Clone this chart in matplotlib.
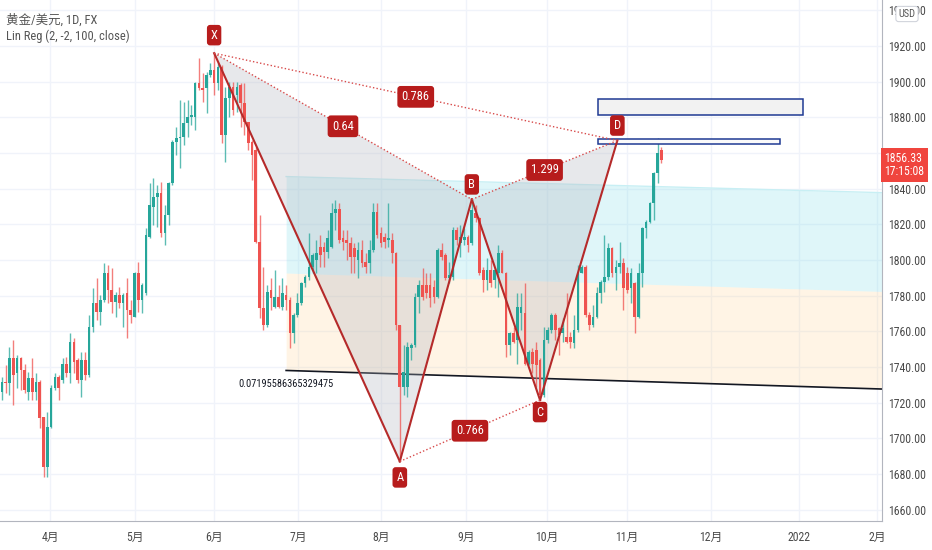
import matplotlib
matplotlib.use('Agg')
import matplotlib.pyplot as plt
from matplotlib import font_manager as fm
from matplotlib.patches import Polygon, Rectangle

# ---------------- data ----------------
opens = [1726.2, 1731.8, 1730.8, 1744.9, 1736.4, 1744.9, 1738.3, 1726.2, 1733.6, 1726.2,
         1731.8, 1712.1, 1684.2, 1706.5, 1728.0, 1734.6, 1732.7, 1742.0, 1736.4, 1754.2,
         1743.9, 1732.7, 1743.9, 1735.5, 1762.6, 1775.7, 1771.0, 1777.6, 1792.5, 1783.2,
         1776.6, 1780.4, 1775.7, 1781.3, 1772.0, 1768.2, 1792.5, 1777.6, 1781.3, 1813.1,
         1829.9, 1835.5, 1837.4, 1815.0, 1825.2, 1843.0, 1866.4, 1868.2, 1869.2, 1876.6,
         1880.4, 1880.4, 1899.1, 1896.3, 1896.3, 1903.7, 1906.5, 1899.1, 1908.4, 1870.1,
         1890.7, 1897.2, 1892.5, 1898.1, 1887.8, 1877.6, 1866.4, 1861.7, 1810.3, 1772.9,
         1763.5, 1783.2, 1773.8, 1779.4, 1773.8, 1780.4, 1777.6, 1758.9, 1769.2, 1775.7,
         1786.9, 1790.7, 1796.3, 1800.0, 1807.5, 1807.5, 1804.7, 1807.5, 1826.2, 1828.9,
         1812.2, 1811.2, 1809.3, 1806.5, 1800.0, 1805.6, 1799.1, 1798.1, 1805.6, 1827.1,
         1815.0, 1813.1, 1811.2, 1811.2, 1803.7, 1763.5, 1729.0, 1729.0, 1750.5, 1752.3,
         1779.4, 1786.0, 1786.0, 1786.0, 1785.0, 1779.4, 1805.6, 1802.8, 1789.7, 1790.7,
         1816.8, 1809.3, 1811.2, 1813.1, 1809.3, 1826.2, 1823.4, 1794.4, 1788.8, 1794.4,
         1788.8, 1792.5, 1803.7, 1792.5, 1752.3, 1758.9, 1755.1, 1770.1, 1770.1, 1742.0,
         1748.6, 1749.5, 1743.9, 1724.3, 1755.1, 1760.7, 1769.2, 1761.7, 1758.9, 1757.0,
         1757.0, 1753.3, 1760.7, 1792.5, 1796.3, 1769.2, 1763.5, 1768.2, 1781.3, 1787.9,
         1790.7, 1806.5, 1792.5, 1796.3, 1798.1, 1792.5, 1784.1, 1786.9, 1768.2, 1792.5,
         1817.8, 1821.5, 1831.8, 1848.6, 1861.7]
highs = [1734.6, 1741.1, 1751.4, 1755.1, 1746.7, 1745.8, 1742.0, 1737.4, 1744.9, 1736.4,
         1732.7, 1712.1, 1714.9, 1729.9, 1736.4, 1735.5, 1744.9, 1745.8, 1758.9, 1756.1,
         1744.9, 1748.6, 1748.6, 1769.2, 1784.1, 1789.7, 1780.4, 1798.1, 1797.2, 1795.3,
         1782.2, 1785.0, 1781.3, 1789.7, 1777.6, 1793.5, 1799.1, 1786.9, 1817.8, 1843.0,
         1845.8, 1842.1, 1843.9, 1830.8, 1843.9, 1867.3, 1874.8, 1889.7, 1888.8, 1889.7,
         1886.9, 1900.0, 1913.1, 1904.7, 1905.6, 1910.3, 1916.0, 1910.3, 1909.3, 1897.2,
         1900.0, 1900.0, 1900.0, 1899.1, 1899.1, 1877.6, 1867.3, 1863.6, 1825.2, 1796.3,
         1786.0, 1789.7, 1794.4, 1786.0, 1789.7, 1786.0, 1779.4, 1770.1, 1781.3, 1787.9,
         1791.6, 1815.0, 1803.7, 1811.2, 1814.0, 1810.3, 1816.8, 1831.8, 1833.6, 1831.8,
         1816.8, 1816.8, 1813.1, 1809.3, 1810.3, 1811.2, 1803.7, 1811.2, 1831.8, 1831.8,
         1818.7, 1815.0, 1831.8, 1815.0, 1804.7, 1763.5, 1752.3, 1754.2, 1753.3, 1781.3,
         1788.8, 1795.3, 1792.5, 1792.5, 1788.8, 1806.5, 1809.3, 1803.7, 1799.1, 1818.7,
         1818.7, 1819.6, 1817.8, 1814.0, 1834.0, 1830.8, 1824.3, 1796.3, 1800.9, 1800.0,
         1795.3, 1808.4, 1805.6, 1793.5, 1759.8, 1762.6, 1781.3, 1781.3, 1786.9, 1749.5,
         1750.5, 1754.2, 1744.9, 1762.6, 1762.6, 1770.1, 1770.1, 1762.6, 1767.3, 1781.3,
         1759.8, 1769.2, 1797.2, 1797.2, 1797.2, 1771.0, 1774.8, 1785.0, 1788.8, 1814.0,
         1809.3, 1807.5, 1800.0, 1810.3, 1800.9, 1796.3, 1795.3, 1787.9, 1798.1, 1818.7,
         1822.4, 1832.7, 1849.5, 1868.2, 1863.6]
lows = [1721.5, 1725.2, 1724.3, 1718.7, 1728.0, 1727.1, 1725.2, 1721.5, 1721.5, 1721.5,
        1705.6, 1678.5, 1678.5, 1705.6, 1727.1, 1721.5, 1730.8, 1734.6, 1730.8, 1736.4,
        1730.8, 1723.4, 1732.7, 1734.6, 1759.8, 1766.3, 1763.5, 1776.6, 1775.7, 1770.1,
        1768.2, 1772.9, 1762.6, 1756.1, 1764.5, 1768.2, 1771.0, 1770.1, 1780.4, 1812.2,
        1819.6, 1818.7, 1813.1, 1808.4, 1819.6, 1842.1, 1858.9, 1851.4, 1864.5, 1869.2,
        1875.7, 1872.9, 1895.3, 1888.8, 1882.2, 1902.8, 1892.5, 1895.3, 1865.4, 1855.1,
        1880.4, 1881.3, 1883.2, 1874.8, 1870.1, 1861.7, 1844.9, 1809.3, 1767.3, 1760.7,
        1762.6, 1772.0, 1772.9, 1772.9, 1772.0, 1772.0, 1750.5, 1753.3, 1768.2, 1774.8,
        1785.0, 1788.8, 1792.5, 1792.5, 1796.3, 1796.3, 1800.9, 1806.5, 1816.8, 1809.3,
        1805.6, 1800.0, 1792.5, 1792.5, 1789.7, 1796.3, 1792.5, 1792.5, 1804.7, 1812.2,
        1807.5, 1806.5, 1807.5, 1798.1, 1760.7, 1687.1, 1724.3, 1723.4, 1743.9, 1751.4,
        1770.1, 1777.6, 1778.5, 1773.8, 1775.7, 1778.5, 1800.0, 1788.8, 1786.9, 1788.8,
        1808.4, 1801.9, 1808.4, 1804.7, 1808.4, 1821.5, 1791.6, 1782.2, 1783.2, 1785.0,
        1784.1, 1779.4, 1792.5, 1745.8, 1746.7, 1753.3, 1742.0, 1760.7, 1741.1, 1741.1,
        1736.4, 1729.0, 1721.5, 1723.4, 1753.3, 1758.9, 1755.1, 1746.7, 1754.2, 1753.3,
        1750.5, 1750.5, 1759.8, 1792.5, 1768.2, 1760.7, 1762.6, 1767.3, 1775.7, 1782.2,
        1788.8, 1790.7, 1783.2, 1792.5, 1772.0, 1781.3, 1775.7, 1758.9, 1767.3, 1785.0,
        1812.2, 1820.6, 1822.4, 1843.0, 1854.2]
closes = [1731.8, 1730.8, 1744.9, 1735.5, 1744.9, 1738.3, 1727.1, 1733.6, 1726.2, 1731.8,
          1711.2, 1684.2, 1706.5, 1728.0, 1734.6, 1728.0, 1742.0, 1736.4, 1754.2, 1743.0,
          1732.7, 1743.9, 1735.5, 1762.6, 1775.7, 1771.0, 1777.6, 1792.5, 1783.2, 1776.6,
          1780.4, 1775.7, 1780.4, 1772.0, 1769.2, 1792.5, 1777.6, 1786.0, 1814.0, 1830.8,
          1835.5, 1837.4, 1815.0, 1825.2, 1843.0, 1866.4, 1868.2, 1869.2, 1876.6, 1880.4,
          1881.3, 1899.1, 1896.3, 1895.3, 1903.7, 1906.5, 1899.1, 1908.4, 1870.1, 1890.7,
          1897.2, 1884.1, 1897.2, 1887.8, 1877.6, 1865.4, 1858.9, 1810.3, 1772.9, 1763.5,
          1782.2, 1778.5, 1779.4, 1773.8, 1781.3, 1777.6, 1758.9, 1769.2, 1775.7, 1786.9,
          1790.7, 1796.3, 1802.8, 1803.7, 1802.8, 1804.7, 1812.2, 1826.2, 1828.9, 1811.2,
          1810.3, 1809.3, 1801.9, 1801.9, 1805.6, 1798.1, 1796.3, 1805.6, 1827.1, 1814.0,
          1809.3, 1810.3, 1812.2, 1803.7, 1763.5, 1729.0, 1737.4, 1751.4, 1752.3, 1779.4,
          1786.0, 1779.4, 1781.3, 1778.5, 1779.4, 1805.6, 1801.9, 1789.7, 1791.6, 1816.8,
          1811.2, 1813.1, 1813.1, 1808.4, 1828.0, 1823.4, 1792.5, 1788.8, 1794.4, 1786.9,
          1794.4, 1803.7, 1792.5, 1752.3, 1758.9, 1754.2, 1773.8, 1773.8, 1742.0, 1748.6,
          1742.0, 1741.1, 1724.3, 1755.1, 1760.7, 1769.2, 1760.7, 1757.9, 1761.7, 1754.2,
          1754.2, 1760.7, 1792.5, 1796.3, 1769.2, 1763.5, 1768.2, 1781.3, 1787.9, 1790.7,
          1806.5, 1792.5, 1796.3, 1798.1, 1784.1, 1783.2, 1792.5, 1768.2, 1792.5, 1817.8,
          1821.5, 1831.8, 1848.6, 1859.8, 1856.33]

# month ticks (bar index positions) and labels
month_pos = [12.8, 35.2, 56.0, 78.2, 100.0, 122.4, 143.9, 165.0, 187.1, 210.3, 231.0]
month_labels = ['4月', '5月', '6月', '7月', '8月', '9月', '10月', '11月', '12月', '2022', '2月']
price_ticks = list(range(1660, 1941, 20))

# harmonic pattern points X, A, B, C, D
pat_names = ['X', 'A', 'B', 'C', 'D']
pat_idx = [56, 105, 124, 142, 162.4]
pat_px = [1916.0, 1687.1, 1834.0, 1721.5, 1867.0]
ratio_labels = {('X', 'B'): '0.64', ('X', 'D'): '0.786', ('B', 'D'): '1.299', ('A', 'C'): '0.766'}

# linear regression channel (start, end)
reg_idx = [75.0, 232.1]
reg_upper = [1846.8, 1837.8]
reg_mid = [1792.7, 1782.4]
reg_lower = [1738.1, 1727.7]
reg_label = '0.07195586365329475'

# target boxes (x0, x1, y0, y1)
boxes = [(157.3, 211.4, 1881.3, 1890.3), (157.3, 205.4, 1865.1, 1867.9)]
last_price = closes[-1]
last_time = '17:15:08'

# ---------------- style ----------------
names = {f.name for f in fm.fontManager.ttflist}
NARROW = 'DejaVu Sans'
for cand in ('Roboto Condensed', 'Archivo Narrow', 'Barlow Semi Condensed', 'Asap Condensed'):
    if cand in names:
        NARROW = cand
        break
FAM = [NARROW, 'Noto Sans CJK SC', 'DejaVu Sans']
UP, DOWN = '#26a69a', '#ef5350'
PAT = '#b71c1c'
TXT = '#4a4a4a'
GRID = '#f0f3fa'

fig = plt.figure(figsize=(9.32, 5.5), dpi=100)
ax = fig.add_axes([0, 29 / 550, 881.5 / 932, 521 / 550])
ax.set_xlim(-0.5, 232.1)
ax.set_ylim(1653.7, 1945.8)

for p in price_ticks:
    ax.axhline(p, color=GRID, lw=1, zorder=0)
for m in month_pos:
    ax.axvline(m, color=GRID, lw=1, zorder=0)

# regression channel
ax.fill_between(reg_idx, reg_mid, reg_upper, color='#80deea', alpha=0.25, lw=0, zorder=0.5)
ax.fill_between(reg_idx, reg_lower, reg_mid, color='#ffcc80', alpha=0.2, lw=0, zorder=0.5)
ax.plot(reg_idx, reg_upper, color='#c8eff4', lw=1, zorder=0.6)
ax.plot(reg_idx, reg_lower, color='#131722', lw=1.2, zorder=0.6)
ax.annotate(reg_label, xy=(reg_idx[0], reg_lower[0]), xytext=(0, -14), textcoords='offset pixels',
            ha='center', va='center', fontsize=7.5, color='#131722', family=FAM, zorder=6)

# pattern triangles
P = dict(zip(pat_names, zip(pat_idx, pat_px)))
for tri in (('X', 'A', 'B'), ('B', 'C', 'D')):
    ax.add_patch(Polygon([P[k] for k in tri], closed=True, fc='#b2b5be', alpha=0.3, ec='none', zorder=1))

# candles
for i, (o, h, l, c) in enumerate(zip(opens, highs, lows, closes)):
    col = UP if c >= o else DOWN
    ax.vlines(i, l, h, color=col, lw=1.0, alpha=0.75, zorder=2)
    ax.bar(i, max(abs(c - o), 0.6), bottom=min(o, c), width=0.7, color=col, lw=0, zorder=2.5)

# pattern lines
for a, b in zip(pat_names[:-1], pat_names[1:]):
    ax.plot([P[a][0], P[b][0]], [P[a][1], P[b][1]], color='#b52a2a', lw=1.5, zorder=4)
for (a, b), lab in ratio_labels.items():
    ax.plot([P[a][0], P[b][0]], [P[a][1], P[b][1]], color='#d84b4b', lw=1, ls=(0, (1, 1.6)), zorder=4)
    mx, my = (P[a][0] + P[b][0]) / 2, (P[a][1] + P[b][1]) / 2
    ax.annotate(lab, xy=(mx, my), ha='center', va='center', fontsize=9, color='white', family=FAM,
                bbox=dict(boxstyle='round,pad=0.35,rounding_size=0.25', fc=PAT, ec='none'), zorder=6)

offs = {'X': 18, 'A': -16, 'B': 15, 'C': -12, 'D': 15}
for k in pat_names:
    ax.annotate(k, xy=P[k], xytext=(0, offs[k]), textcoords='offset pixels', ha='center', va='center',
                fontsize=9, color='white', family=FAM,
                bbox=dict(boxstyle='round,pad=0.3,rounding_size=0.25', fc=PAT, ec='none'), zorder=6)

# target boxes
for j, (x0, x1, y0, y1) in enumerate(boxes):
    ax.add_patch(Rectangle((x0, y0), x1 - x0, y1 - y0, fc='#f2f2f2' if j == 0 else '#fafafa',
                           ec='#1f3a93', lw=1.1, zorder=3))

# axes styling
for s in ('top', 'left'):
    ax.spines[s].set_visible(False)
ax.spines['right'].set_color('#b2b5be')
ax.spines['bottom'].set_color('#b2b5be')
ax.yaxis.tick_right()
ax.set_yticks(price_ticks)
ax.set_yticklabels([f'{p:.2f}' for p in price_ticks], family=FAM, fontsize=8.5, color=TXT)
ax.set_xticks(month_pos)
ax.set_xticklabels(month_labels, family=FAM, fontsize=8.5, color=TXT)
ax.tick_params(axis='y', length=0, pad=5)
ax.tick_params(axis='x', length=0, pad=7)

# last price label
ax.annotate(f'{last_price:.2f}\n{last_time}', xy=(1, last_price), xycoords=ax.get_yaxis_transform(),
            xytext=(3, 8), textcoords='offset pixels', ha='left', va='top', fontsize=8.5, color='white',
            family=FAM, linespacing=1.05, annotation_clip=False,
            bbox=dict(boxstyle='square,pad=0.3', fc='#f0453e', ec='none'), zorder=10)

# header
fig.text(6 / 932, 1 - 20 / 550, '黄金/美元, 1D, FX', fontsize=9, color='#555555', family=FAM, va='center')
fig.text(6 / 932, 1 - 36 / 550, 'Lin Reg (2, -2, 100, close)', fontsize=9, color='#555555', family=FAM, va='center')
fig.text(907 / 932, 1 - 14 / 550, 'USD', fontsize=7.5, color='#555555', family=FAM, ha='center', va='center',
         bbox=dict(boxstyle='round,pad=0.25', fc='white', ec='#d1d4dc', lw=0.8))

fig.savefig('out.png', dpi=100)
